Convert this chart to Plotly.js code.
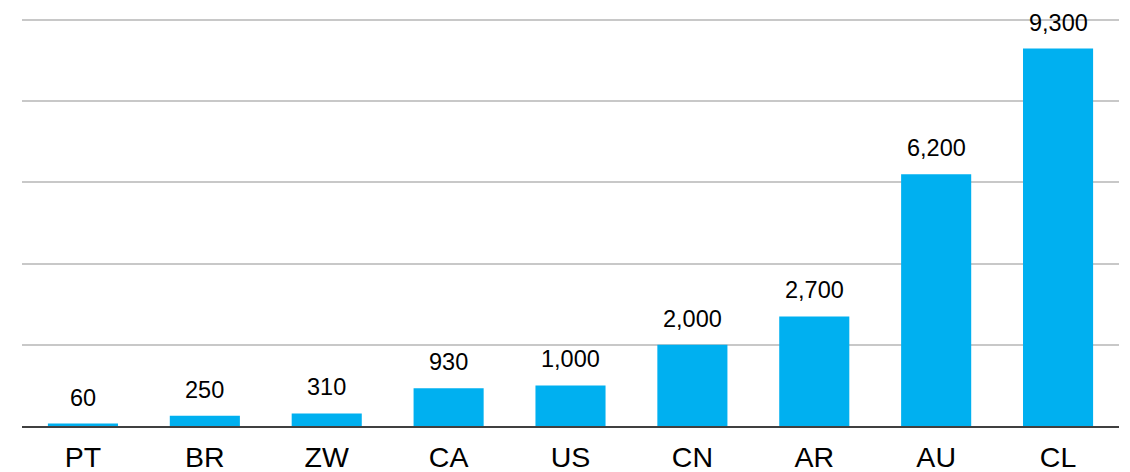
<!DOCTYPE html>
<html>
<head>
<meta charset="utf-8">
<script src="https://cdn.plot.ly/plotly-3.0.1.min.js"></script>
<style>
  html, body { margin: 0; padding: 0; background: #ffffff; }
  #chart { width: 1130px; height: 472px; }
</style>
</head>
<body>
<div id="chart"></div>
<script>
// Country codes along the x axis
const countries = ['PT', 'BR', 'ZW', 'CA', 'US', 'CN', 'AR', 'AU', 'CL'];
// Value per country
const values = [60, 250, 310, 930, 1000, 2000, 2700, 6200, 9300];
// Gridline positions on the value axis
const gridValues = [0, 2000, 4000, 6000, 8000, 10000];

const fmt = v => v.toLocaleString('en-US');

const barTrace = {
  type: 'bar',
  x: countries,
  y: values,
  marker: { color: '#00B0F0' },
  hoverinfo: 'x+y'
};

// Value labels sit a fixed distance above each bar
const labels = countries.map((c, i) => ({
  x: c,
  y: values[i],
  xref: 'x',
  yref: 'y',
  text: fmt(values[i]),
  showarrow: false,
  yanchor: 'bottom',
  yshift: 11,
  font: { family: 'Liberation Sans, Arial, sans-serif', size: 23.5, color: '#000000' }
}));

const layout = {
  width: 1130,
  height: 472,
  margin: { l: 22, r: 11, t: 12, b: 46 },
  paper_bgcolor: '#ffffff',
  plot_bgcolor: '#ffffff',
  bargap: 0.425,
  showlegend: false,
  font: { family: 'Liberation Sans, Arial, sans-serif', color: '#000000' },
  xaxis: {
    type: 'category',
    showgrid: false,
    showline: true,
    linecolor: '#404040',
    linewidth: 2,
    ticks: '',
    tickfont: { size: 28.5, color: '#000000' },
    ticklabelstandoff: 5,
    zeroline: false
  },
  yaxis: {
    range: [0, 10200],
    tickvals: gridValues,
    showticklabels: false,
    showgrid: true,
    gridcolor: '#C8C8C8',
    gridwidth: 2,
    zeroline: false,
    showline: false,
    ticks: ''
  },
  annotations: labels
};

Plotly.newPlot('chart', [barTrace], layout, { displayModeBar: false, staticPlot: true });
</script>
</body>
</html>
